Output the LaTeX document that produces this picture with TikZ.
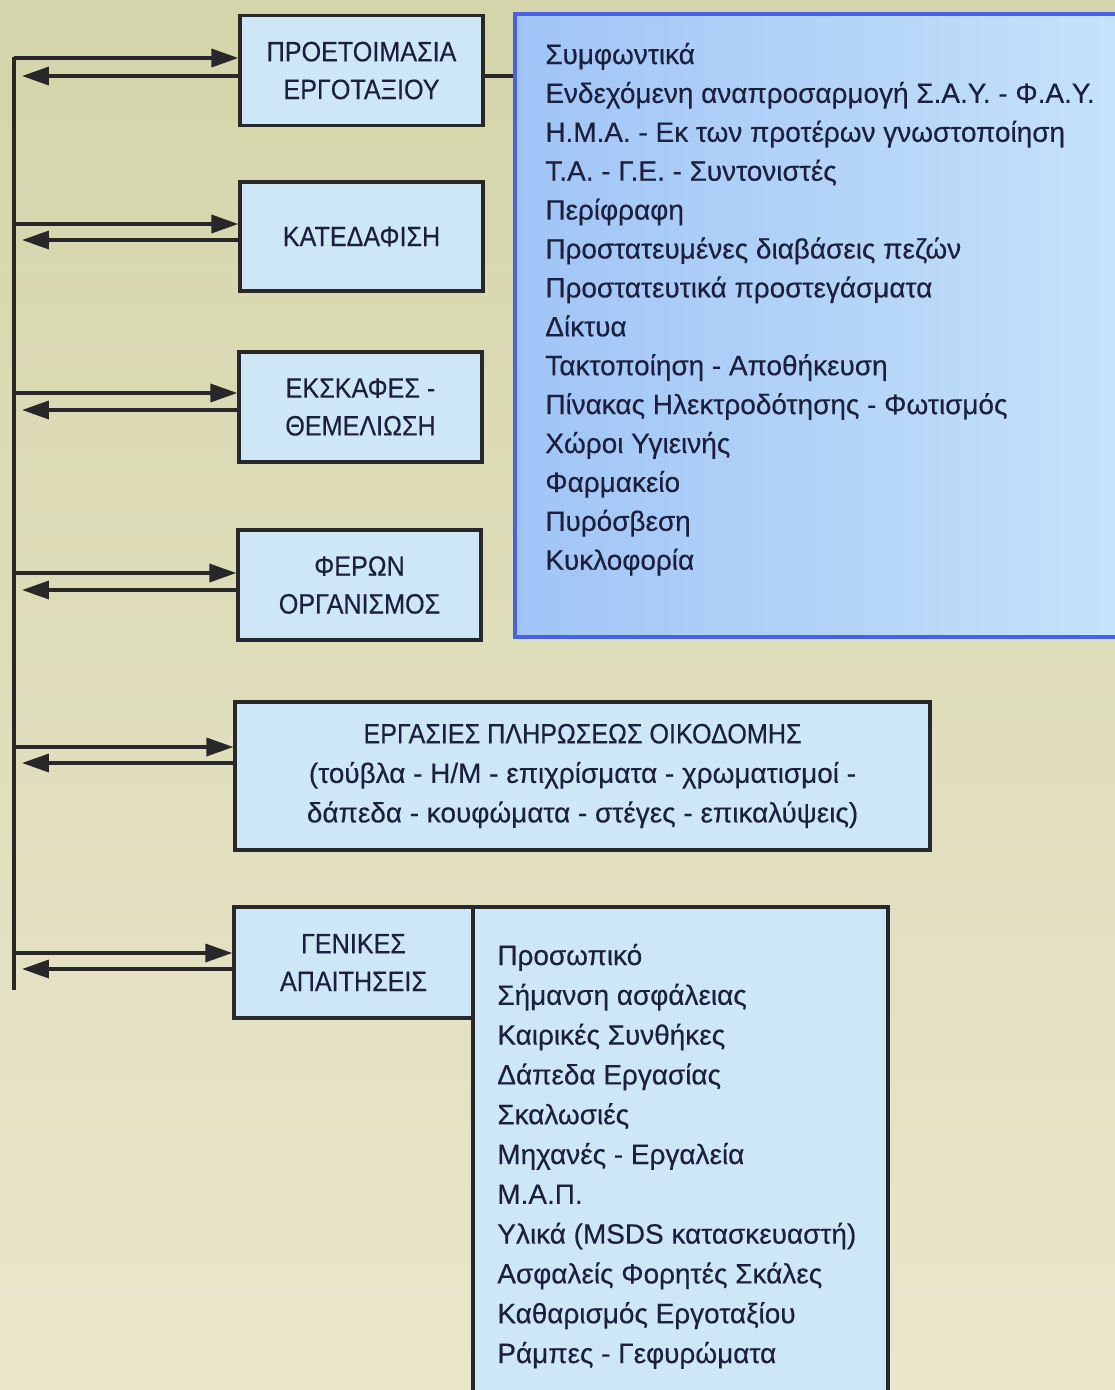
\documentclass[tikz,border=0pt]{standalone}
\usepackage{fontspec}
\setmainfont[FakeBold=0.35]{Liberation Sans}
\newfontfamily\capfont[FakeStretch=0.9,FakeBold=0.35]{Liberation Sans}
\usetikzlibrary{arrows.meta}
\definecolor{bgtop}{RGB}{212,213,170}
\definecolor{bgbot}{RGB}{234,230,204}
\definecolor{boxfill}{RGB}{206,231,246}
\definecolor{blueL}{RGB}{160,196,246}
\definecolor{blueR}{RGB}{198,227,250}
\definecolor{blueline}{RGB}{70,100,225}
\definecolor{linec}{RGB}{40,40,42}
\definecolor{txtc}{RGB}{28,32,62}
\newcommand{\dfont}{\fontsize{15.9}{21.5}\selectfont}
\begin{document}
\begin{tikzpicture}[x=0.02cm,y=-0.02cm,
  box/.style={draw=linec,line width=0.065cm,fill=boxfill,inner sep=0pt,
    minimum width=4.86cm,minimum height=2.2cm,align=center,font=\dfont,text=txtc},
  arr/.style={line width=0.07cm,draw=linec,-{Triangle[length=0.54cm,width=0.36cm]}},
  conn/.style={line width=0.065cm,draw=linec},
  item/.style={anchor=base west,inner sep=0pt,font=\dfont,text=txtc}]
\useasboundingbox (0,0) rectangle (1115,1390);
\clip (0,0) rectangle (1115,1390);
\shade[top color=bgtop,bottom color=bgbot] (0,0) rectangle (1115,1390);

% blue box
\node[draw=blueline,line width=0.085cm,left color=blueL,right color=blueR,
  minimum width=12.3cm,minimum height=12.46cm,inner sep=0pt] (blue) at (822.5,325.5) {};

% general requirements list box
\node[box,minimum width=8.3cm,minimum height=9.86cm] (gl) at (680.5,1153.5) {};

% boxes
\node[box] (b1) at (361.5,70.5) {\capfont ΠΡΟΕΤΟΙΜΑΣΙΑ\\\capfont ΕΡΓΟΤΑΞΙΟΥ};
\node[box,minimum height=2.18cm] (b2) at (361.5,236.5) {\capfont ΚΑΤΕΔΑΦΙΣΗ};
\node[box] (b3) at (360.5,407) {\capfont ΕΚΣΚΑΦΕΣ -\\\capfont ΘΕΜΕΛΙΩΣΗ};
\node[box] (b4) at (359.5,585) {\capfont ΦΕΡΩΝ\\\capfont ΟΡΓΑΝΙΣΜΟΣ};
\node[box,minimum width=13.9cm,minimum height=2.96cm,font=\fontsize{15.9}{22.5}\selectfont] (b5) at (582.5,776)
  {{\capfont ΕΡΓΑΣΙΕΣ ΠΛΗΡΩΣΕΩΣ ΟΙΚΟΔΟΜΗΣ}\\(τούβλα - Η/Μ - επιχρίσματα - χρωματισμοί -\\δάπεδα - κουφώματα - στέγες - επικαλύψεις)};
\node[box,minimum width=4.78cm,minimum height=2.22cm] (b6) at (353.5,962.5) {\capfont ΓΕΝΙΚΕΣ\\\capfont ΑΠΑΙΤΗΣΕΙΣ};

% spine
\coordinate (top) at (14,57);
\coordinate (bot) at (14,990);
\draw[conn] (top) -- (bot);

% arrow coordinates on spine
\coordinate (i1) at (14,58);  \coordinate (o1) at (22,76);
\coordinate (i2) at (14,224); \coordinate (o2) at (22,240);
\coordinate (i3) at (14,393); \coordinate (o3) at (22,410);
\coordinate (i4) at (14,573); \coordinate (o4) at (22,590);
\coordinate (i5) at (14,747); \coordinate (o5) at (22,763);
\coordinate (i6) at (14,953); \coordinate (o6) at (22,969);
\foreach \k in {1,...,6}{
  \draw[arr] (i\k) -- (i\k -| b\k.west);
  \draw[arr] (o\k -| b\k.west) -- (o\k);
}

% connector to blue box
\draw[conn] (b1.east |- o1) -- (blue.west |- o1);

% blue box list
\foreach \t [count=\i from 0] in {{Συμφωντικά},{Ενδεχόμενη αναπροσαρμογή Σ.Α.Υ. - Φ.Α.Υ.},
  {Η.Μ.Α. - Εκ των προτέρων γνωστοποίηση},{Τ.Α. - Γ.Ε. - Συντονιστές},{Περίφραφη},
  {Προστατευμένες διαβάσεις πεζών},{Προστατευτικά προστεγάσματα},{Δίκτυα},
  {Τακτοποίηση - Αποθήκευση},{Πίνακας Ηλεκτροδότησης - Φωτισμός},{Χώροι Υγιεινής},
  {Φαρμακείο},{Πυρόσβεση},{Κυκλοφορία}}
  \node[item] (bl\i) at (545,{64+38.9*\i}) {\t};

% general requirements list
\foreach \t [count=\i from 0] in {{Προσωπικό},{Σήμανση ασφάλειας},{Καιρικές Συνθήκες},
  {Δάπεδα Εργασίας},{Σκαλωσιές},{Μηχανές - Εργαλεία},{Μ.Α.Π.},
  {Υλικά (MSDS κατασκευαστή)},{Ασφαλείς Φορητές Σκάλες},{Καθαρισμός Εργοταξίου},
  {Ράμπες - Γεφυρώματα}}
  \node[item] (gr\i) at (497,{965+39.8*\i}) {\t};
\end{tikzpicture}
\end{document}
